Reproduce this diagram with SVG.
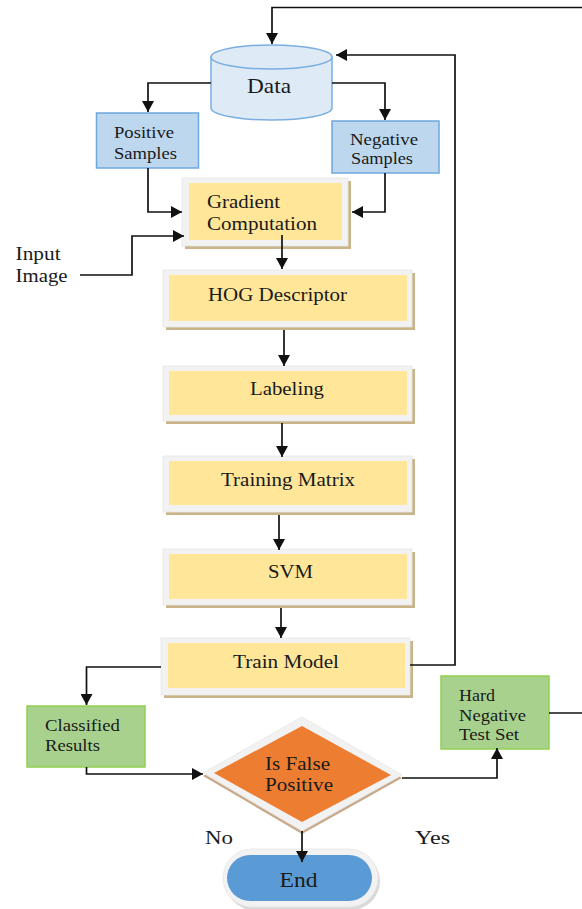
<svg xmlns="http://www.w3.org/2000/svg" width="582" height="909" viewBox="0 0 582 909" font-family="'Liberation Serif', 'DejaVu Serif', 'Times New Roman', serif">
<style>
text{font-family:'Liberation Serif','DejaVu Serif','Times New Roman',serif;fill:#1a1a1a;}
.ln{fill:none;stroke:#111;stroke-width:1.7;}
.frame{fill:#f2f2f2;stroke:#e6e6e6;stroke-width:0.8;}
.shadow{fill:#c9b48a;}
.yel{fill:#ffe699;}
.blue{fill:#bdd7ee;stroke:#6fa8dc;stroke-width:1.5;}
.green{fill:#a9d18e;stroke:#92d050;stroke-width:1.5;}
</style>
<defs>
<marker id="ah" markerUnits="userSpaceOnUse" markerWidth="12" markerHeight="12" refX="11" refY="6" orient="auto">
<path d="M0,0 L11,6 L0,12 Z" fill="#111"/>
</marker>
</defs>
<rect width="582" height="909" fill="#fff"/>

<g id="data">
<path d="M211,57 L211,108 A60.5,12 0 0 0 332,108 L332,57 Z" fill="#deebf7" stroke="#7aaee0" stroke-width="1.5"/>
<ellipse cx="271.5" cy="57" rx="60.5" ry="12" fill="#deebf7" stroke="#7aaee0" stroke-width="1.5"/>
<text x="247" y="93" font-size="21" textLength="44" lengthAdjust="spacingAndGlyphs">Data</text>
</g>

<g id="positive">
<rect class="blue" x="96.5" y="113" width="102" height="55"/>
<text x="114" y="138" font-size="17.5" textLength="60" lengthAdjust="spacingAndGlyphs">Positive</text>
<text x="114" y="159" font-size="17.5" textLength="63" lengthAdjust="spacingAndGlyphs">Samples</text>
</g>

<g id="negative">
<rect class="blue" x="332" y="121" width="107" height="52"/>
<text x="350" y="145" font-size="17.5" textLength="68" lengthAdjust="spacingAndGlyphs">Negative</text>
<text x="351" y="164" font-size="17.5" textLength="62" lengthAdjust="spacingAndGlyphs">Samples</text>
</g>

<g id="gradient">
<rect class="shadow" x="185" y="181" width="166" height="68"/>
<rect class="frame" x="182" y="178" width="166" height="68"/>
<rect class="yel" x="189" y="183" width="153" height="57"/>
<text x="207" y="208" font-size="19" textLength="73" lengthAdjust="spacingAndGlyphs">Gradient</text>
<text x="207" y="230" font-size="19" textLength="110" lengthAdjust="spacingAndGlyphs">Computation</text>
</g>

<g id="input">
<text x="15.6" y="260" font-size="18.5" textLength="45" lengthAdjust="spacingAndGlyphs">Input</text>
<text x="15.6" y="282" font-size="18.5" textLength="52" lengthAdjust="spacingAndGlyphs">Image</text>
</g>

<g id="hog">
<rect class="shadow" x="166" y="273" width="249" height="57"/>
<rect class="frame" x="163" y="270" width="249" height="57"/>
<rect class="yel" x="169" y="275" width="238" height="46"/>
<text x="208" y="300.5" font-size="18.5" textLength="139" lengthAdjust="spacingAndGlyphs">HOG Descriptor</text>
</g>

<g id="labeling">
<rect class="shadow" x="166" y="369" width="249" height="55"/>
<rect class="frame" x="163" y="366" width="249" height="55"/>
<rect class="yel" x="169" y="371" width="238" height="44"/>
<text x="250" y="395" font-size="18.5" textLength="74" lengthAdjust="spacingAndGlyphs">Labeling</text>
</g>

<g id="training-matrix">
<rect class="shadow" x="166" y="459" width="249" height="56"/>
<rect class="frame" x="163" y="456" width="249" height="56"/>
<rect class="yel" x="169" y="461" width="238" height="44"/>
<text x="221" y="485.5" font-size="18.5" textLength="134" lengthAdjust="spacingAndGlyphs">Training Matrix</text>
</g>

<g id="svm">
<rect class="shadow" x="166" y="552" width="249" height="56"/>
<rect class="frame" x="163" y="549" width="249" height="56"/>
<rect class="yel" x="169" y="554" width="238" height="45"/>
<text x="268" y="578" font-size="18.5" textLength="45" lengthAdjust="spacingAndGlyphs">SVM</text>
</g>

<g id="train-model">
<rect class="shadow" x="164" y="641" width="249" height="57"/>
<rect class="frame" x="161" y="638" width="249" height="57"/>
<rect class="yel" x="168" y="643" width="237" height="45"/>
<text x="233" y="668" font-size="18.5" textLength="106" lengthAdjust="spacingAndGlyphs">Train Model</text>
</g>

<g id="classified">
<rect class="green" x="27" y="706" width="118" height="61"/>
<text x="45" y="731" font-size="17" textLength="75" lengthAdjust="spacingAndGlyphs">Classified</text>
<text x="45" y="751" font-size="17" textLength="55" lengthAdjust="spacingAndGlyphs">Results</text>
</g>

<g id="decision">
<polygon points="203,776 302,720 402,778 302,834" fill="#c9a98a"/>
<polygon points="203,773 302,717 402,775 302,831" fill="#f2f2f2" stroke="#e6e6e6" stroke-width="0.8"/>
<polygon points="214,773 302,726 391,775 302,822" fill="#ed7d31"/>
<text x="265" y="770" font-size="18.5" textLength="65" lengthAdjust="spacingAndGlyphs">Is False</text>
<text x="265" y="790.5" font-size="18.5" textLength="68" lengthAdjust="spacingAndGlyphs">Positive</text>
</g>

<g id="hard-negative">
<rect class="green" x="441" y="676" width="108" height="73"/>
<text x="459" y="700.5" font-size="17" textLength="36" lengthAdjust="spacingAndGlyphs">Hard</text>
<text x="459" y="721" font-size="17" textLength="67" lengthAdjust="spacingAndGlyphs">Negative</text>
<text x="459" y="740" font-size="17" textLength="60" lengthAdjust="spacingAndGlyphs">Test Set</text>
</g>

<g id="labels">
<text x="205" y="844" font-size="19" textLength="28" lengthAdjust="spacingAndGlyphs">No</text>
<text x="415" y="844" font-size="19" textLength="35" lengthAdjust="spacingAndGlyphs">Yes</text>
</g>

<g id="end">
<rect x="225" y="852" width="155" height="58" rx="29" fill="#d9d9d9"/>
<rect x="223" y="849" width="155" height="58" rx="29" fill="#f2f2f2" stroke="#e6e6e6" stroke-width="0.8"/>
<rect x="227" y="855" width="145" height="46" rx="23" fill="#5b9bd5"/>
<text x="279.5" y="887" font-size="21" textLength="38" lengthAdjust="spacingAndGlyphs">End</text>
</g>

<g id="connectors">
<polyline class="ln" points="582,7.5 272,7.5 272,44" marker-end="url(#ah)"/>
<polyline class="ln" points="410,665 455,665 455,55 336,55" marker-end="url(#ah)"/>
<polyline class="ln" points="211,83 148,83 148,112" marker-end="url(#ah)"/>
<polyline class="ln" points="332,83 385,83 385,120" marker-end="url(#ah)"/>
<polyline class="ln" points="148,168 148,212 182,212" marker-end="url(#ah)"/>
<polyline class="ln" points="385,173 385,212 352,212" marker-end="url(#ah)"/>
<polyline class="ln" points="80,275 132,275 132,236 184,236" marker-end="url(#ah)"/>
<polyline class="ln" points="282,235 282,269" marker-end="url(#ah)"/>
<polyline class="ln" points="284,330 284,366" marker-end="url(#ah)"/>
<polyline class="ln" points="282,423 282,457" marker-end="url(#ah)"/>
<polyline class="ln" points="279,515 279,550" marker-end="url(#ah)"/>
<polyline class="ln" points="281,608 281,638" marker-end="url(#ah)"/>
<polyline class="ln" points="161,667 86.5,667 86.5,705" marker-end="url(#ah)"/>
<polyline class="ln" points="86.5,767 86.5,774 203,774" marker-end="url(#ah)"/>
<polyline class="ln" points="402,778 497,778 497,748" marker-end="url(#ah)"/>
<polyline class="ln" points="549,713 582,713"/>
<polyline class="ln" points="302,831 302,862" marker-end="url(#ah)"/>
</g>
</svg>
